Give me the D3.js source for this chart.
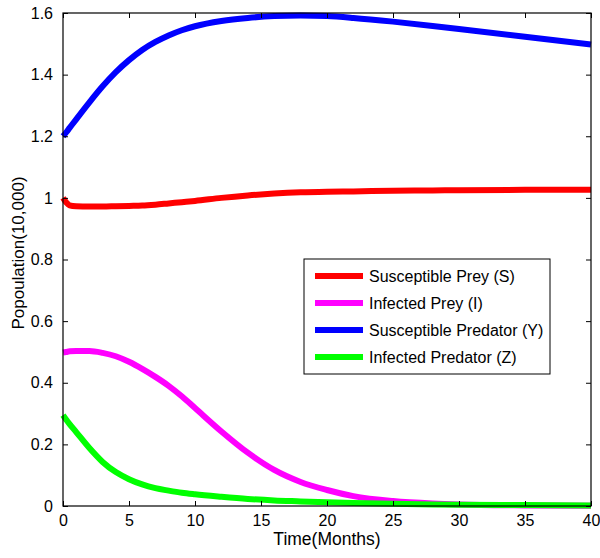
<!DOCTYPE html>
<html>
<head>
<meta charset="utf-8">
<script src="https://cdn.jsdelivr.net/npm/d3@7"></script>
<style>
  body { margin: 0; background: #fff; }
  text { font-family: "Liberation Sans", Arial, sans-serif; fill: #000; }
</style>
</head>
<body>
<div class="chart"></div>
<script>
// time (months)
const time = [0, 0.25, 0.5, 1, 2, 3, 4, 5, 6, 7, 8, 9, 10, 12, 14, 16, 18, 20, 22, 25, 28, 30, 35, 40]

const preyS = [1.0, 0.985, 0.976, 0.973, 0.972, 0.972, 0.973, 0.974, 0.975, 0.978, 0.982, 0.986, 0.99, 1.0, 1.008, 1.014, 1.018, 1.02, 1.021, 1.023, 1.024, 1.025, 1.026, 1.026]
const preyI = [0.498, 0.5, 0.502, 0.503, 0.503, 0.497, 0.486, 0.468, 0.445, 0.419, 0.39, 0.356, 0.318, 0.242, 0.173, 0.117, 0.078, 0.052, 0.032, 0.016, 0.008, 0.005, 0.002, 0.001]
const predY = [1.2, 1.213, 1.227, 1.255, 1.31, 1.362, 1.408, 1.447, 1.48, 1.506, 1.527, 1.544, 1.557, 1.574, 1.584, 1.59, 1.592, 1.59, 1.584, 1.572, 1.558, 1.548, 1.523, 1.498]
const predZ = [0.295, 0.28, 0.266, 0.24, 0.188, 0.143, 0.11, 0.087, 0.07, 0.058, 0.05, 0.043, 0.038, 0.03, 0.023, 0.018, 0.015, 0.012, 0.01, 0.007, 0.005, 0.004, 0.003, 0.002]

const seriesNames = ["Susceptible Prey (S)", "Infected Prey (I)", "Susceptible Predator (Y)", "Infected Predator (Z)"]
const seriesColors = ["#ff0000", "#ff00ff", "#0000ff", "#00ff00"]

const xTicks = [0, 5, 10, 15, 20, 25, 30, 35, 40]
const yTicks = [0, 0.2, 0.4, 0.6, 0.8, 1, 1.2, 1.4, 1.6]

const width = 600
const height = 558
const mLeft = 63, mRight = 591, mTop = 13, mBottom = 506
const tickLen = 5

const series = [preyS, preyI, predY, predZ].map((v, i) => ({
    name: seriesNames[i],
    color: seriesColors[i],
    values: time.map((t, j) => ({ t: t, v: v[j] }))
}))

const xScale = d3.scaleLinear().domain([0, 40]).range([mLeft, mRight])
const yScale = d3.scaleLinear().domain([0, 1.6]).range([mBottom, mTop])

const svg = d3.select(".chart")
    .append("svg")
    .attr("width", width)
    .attr("height", height)

// curves (drawn first, frame on top)
const line = d3.line()
    .x(d => xScale(d.t))
    .y(d => yScale(d.v))
    .curve(d3.curveMonotoneX)

const plot = svg.append("g")
// draw order: S, I, Y, Z
plot.selectAll("path")
    .data(series)
    .join("path")
    .attr("d", d => line(d.values))
    .attr("fill", "none")
    .attr("stroke", d => d.color)
    .attr("stroke-width", 6)
    .attr("stroke-linejoin", "round")

// axes, ticks pointing inwards like matlab
svg.append("g")
    .attr("transform", `translate(0,${mBottom})`)
    .call(d3.axisBottom(xScale).tickValues(xTicks).tickSizeInner(-tickLen).tickSizeOuter(0).tickPadding(9).tickFormat(d3.format("d")))
    .call(g => g.select(".domain").remove())
    .call(g => g.selectAll("text").attr("font-size", 16).attr("font-family", "Liberation Sans, Arial, sans-serif"))

svg.append("g")
    .attr("transform", `translate(0,${mTop})`)
    .call(d3.axisTop(xScale).tickValues(xTicks).tickSizeInner(-tickLen).tickSizeOuter(0).tickFormat(""))
    .call(g => g.select(".domain").remove())

svg.append("g")
    .attr("transform", `translate(${mLeft},0)`)
    .call(d3.axisLeft(yScale).tickValues(yTicks).tickSizeInner(-tickLen).tickSizeOuter(0).tickPadding(10).tickFormat(d3.format("~g")))
    .call(g => g.select(".domain").remove())
    .call(g => g.selectAll("text").attr("font-size", 16).attr("font-family", "Liberation Sans, Arial, sans-serif"))

svg.append("g")
    .attr("transform", `translate(${mRight},0)`)
    .call(d3.axisRight(yScale).tickValues(yTicks).tickSizeInner(-tickLen).tickSizeOuter(0).tickFormat(""))
    .call(g => g.select(".domain").remove())

svg.append("rect")
    .attr("x", mLeft)
    .attr("y", mTop)
    .attr("width", mRight - mLeft)
    .attr("height", mBottom - mTop)
    .attr("fill", "none")
    .attr("stroke", "#000")
    .attr("stroke-width", 1.2)

// axis labels
svg.append("text")
    .attr("x", (mLeft + mRight) / 2)
    .attr("y", 545)
    .attr("text-anchor", "middle")
    .attr("font-size", 17.5)
    .text("Time(Months)")

svg.append("text")
    .attr("transform", "translate(24,253) rotate(-90)")
    .attr("text-anchor", "middle")
    .attr("font-size", 17)
    .text("Popoulation(10,000)")

// legend
const legend = svg.append("g").attr("transform", "translate(304,259)")
legend.append("rect")
    .attr("width", 246)
    .attr("height", 115)
    .attr("fill", "#fff")
    .attr("stroke", "#000")
    .attr("stroke-width", 1)

const rows = legend.selectAll("g.row")
    .data(series)
    .join("g")
    .attr("class", "row")
    .attr("transform", (d, i) => `translate(0,${17 + i * 27})`)

rows.append("line")
    .attr("x1", 11)
    .attr("x2", 59)
    .attr("stroke", d => d.color)
    .attr("stroke-width", 6)

rows.append("text")
    .attr("x", 65)
    .attr("dy", "0.35em")
    .attr("font-size", 16)
    .text(d => d.name)
</script>
</body>
</html>
